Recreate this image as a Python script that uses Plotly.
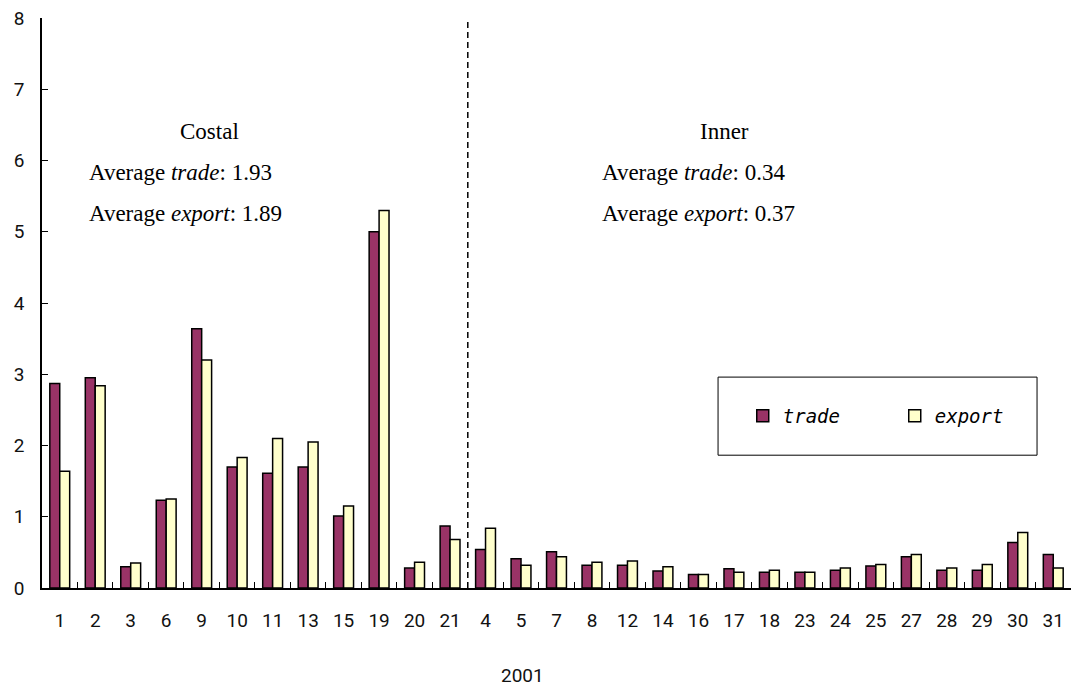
import plotly.graph_objects as go

# Provinces grouped by region (coastal first, then inner)
categories = ["1", "2", "3", "6", "9", "10", "11", "13", "15", "19", "20", "21",
              "4", "5", "7", "8", "12", "14", "16", "17", "18", "23", "24", "25",
              "27", "28", "29", "30", "31"]
trade = [2.87, 2.95, 0.30, 1.23, 3.64, 1.70, 1.61, 1.70, 1.01, 5.00, 0.28, 0.87,
         0.54, 0.41, 0.51, 0.32, 0.32, 0.24, 0.19, 0.27, 0.22, 0.22, 0.25, 0.31,
         0.44, 0.25, 0.25, 0.64, 0.47]
export = [1.64, 2.84, 0.35, 1.25, 3.20, 1.83, 2.10, 2.05, 1.15, 5.30, 0.36, 0.68,
          0.84, 0.32, 0.44, 0.36, 0.38, 0.30, 0.19, 0.22, 0.25, 0.22, 0.28, 0.33,
          0.47, 0.28, 0.33, 0.78, 0.28]
n_coastal = 12
y_ticks = [0, 1, 2, 3, 4, 5, 6, 7, 8]
x_title = "2001"

tick_font = dict(family="Roboto, DejaVu Sans, sans-serif", size=19, color="#111")
serif = "Liberation Serif, Times New Roman, serif"

fig = go.Figure()
fig.add_trace(go.Bar(x=categories, y=trade, name="<i>trade</i>",
                     marker=dict(color="#993366", line=dict(color="#000", width=1.5))))
fig.add_trace(go.Bar(x=categories, y=export, name="<i>export</i>",
                     marker=dict(color="#FFFFCC", line=dict(color="#000", width=1.5))))

# dashed divider between coastal and inner groups
fig.add_shape(type="line", xref="x", yref="y",
              x0=n_coastal - 0.5, x1=n_coastal - 0.5, y0=0, y1=8,
              line=dict(color="#000", width=1.5, dash="6px,4px"))

# legend frame
fig.add_shape(type="rect", xref="paper", yref="paper",
              x0=0.657, x1=0.967, y0=0.233, y1=0.370,
              line=dict(color="#000", width=1), fillcolor="rgba(0,0,0,0)")

avg = {"Costal": (1.93, 1.89), "Inner": (0.34, 0.37)}
blocks = [("Costal", 0.163, 0.044), ("Inner", 0.663, 0.542)]
for title, cx, lx in blocks:
    t, e = avg[title]
    fig.add_annotation(x=cx, y=0.801, xref="paper", yref="paper", text=title,
                       showarrow=False, xanchor="center", yanchor="middle",
                       font=dict(family=serif, size=23, color="#000"))
    fig.add_annotation(x=lx, y=0.729, xref="paper", yref="paper",
                       text=f"Average <i>trade</i>: {t:.2f}",
                       showarrow=False, xanchor="left", yanchor="middle",
                       font=dict(family=serif, size=23, color="#000"))
    fig.add_annotation(x=lx, y=0.657, xref="paper", yref="paper",
                       text=f"Average <i>export</i>: {e:.2f}",
                       showarrow=False, xanchor="left", yanchor="middle",
                       font=dict(family=serif, size=23, color="#000"))

# x-axis caption
fig.add_annotation(x=0.467, y=-0.1526, xref="paper", yref="paper", text=x_title,
                   showarrow=False, xanchor="center", yanchor="middle",
                   height=20, font=tick_font)

fig.update_layout(
    width=1071, height=685,
    margin=dict(l=42, r=0, t=18, b=97),
    paper_bgcolor="#fff", plot_bgcolor="#fff",
    barmode="group", bargap=0.44, bargroupgap=0,
    showlegend=True,
    legend=dict(orientation="h", x=0.681, y=0.302, xanchor="left", yanchor="middle",
                bgcolor="rgba(0,0,0,0)", borderwidth=0,
                entrywidth=107, entrywidthmode="pixels",
                font=dict(family="DejaVu Sans Mono, monospace", size=19, color="#000")),
    xaxis=dict(type="category", tickfont=tick_font, showline=True, linecolor="#000", linewidth=1.5,
               ticks="inside", ticklen=6, tickcolor="#000", tickson="boundaries",
               ticklabelstandoff=14, showgrid=False, zeroline=False),
    yaxis=dict(range=[0, 8], tickvals=y_ticks, tickfont=tick_font, showline=True,
               linecolor="#000", linewidth=1.5, ticks="inside", ticklen=6, tickcolor="#000",
               ticklabelstandoff=12, showgrid=False, zeroline=False),
)

fig.write_html("out.html")
